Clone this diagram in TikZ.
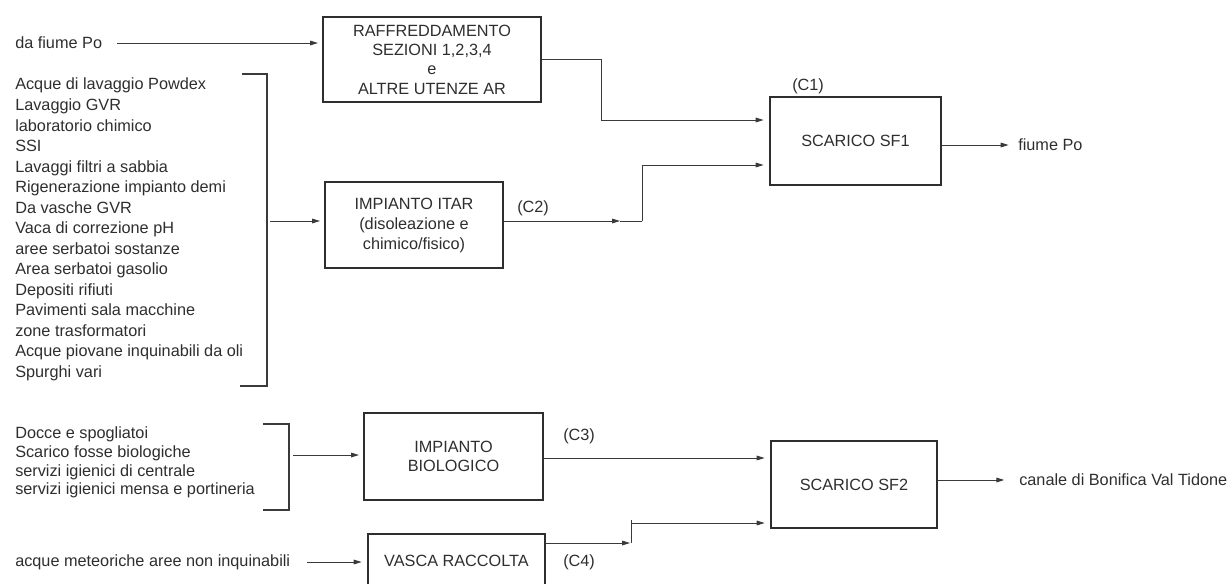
\documentclass[tikz,border=0pt]{standalone}
\usepackage{fontspec}
\setmainfont{Liberation Sans}
\usetikzlibrary{arrows.meta}
\definecolor{ink}{HTML}{2E2E2E}
\definecolor{wire}{HTML}{3A3A3A}
\begin{document}
\begin{tikzpicture}[x=0.75pt,y=-0.75pt,
  every node/.style={text=ink},
  box/.style={draw=ink, line width=1.5pt, align=center, inner sep=0pt,
    font=\fontsize{12.2pt}{14.5pt}\selectfont},
  lbl/.style={inner sep=0pt, font=\fontsize{12.2pt}{14.5pt}\selectfont},
  wirel/.style={draw=wire, line width=0.75pt},
  arr/.style={wirel, -{Triangle[length=6pt,width=3.5pt]}},
  brk/.style={draw=wire, line width=0.9pt}
]
\useasboundingbox (0,0) rectangle (1231,583);
\clip (0,0) rectangle (1231,583);

% boxes
\node[box, minimum width=163.5pt, minimum height=63.75pt] (raff) at (432,59.5)
  {RAFFREDDAMENTO\\SEZIONI 1,2,3,4\\e\\ALTRE UTENZE AR};
\node[box, minimum width=133.5pt, minimum height=64.5pt, font=\fontsize{12.2pt}{15pt}\selectfont] (itar) at (414,225)
  {IMPIANTO ITAR\\(disoleazione e\\chimico/fisico)};
\node[box, minimum width=134.25pt, minimum height=65.25pt] (bio) at (453.5,456.5)
  {IMPIANTO\\BIOLOGICO};
\node[box, minimum width=132.75pt, minimum height=40.5pt] (vasca) at (456.5,561)
  {VASCA RACCOLTA};
\node[box, minimum width=128.25pt, minimum height=66pt] (sf1) at (855.5,141)
  {SCARICO SF1};
\node[box, minimum width=124.5pt, minimum height=65.25pt] (sf2) at (854,484.5)
  {SCARICO SF2};

% texts
\node[lbl, anchor=west] (dafiume) at (15,43) {da fiume Po};
\node[lbl, anchor=west, align=left, font=\fontsize{12.2pt}{15.4pt}\selectfont] (list1) at (15,229.5)
  {Acque di lavaggio Powdex\\Lavaggio GVR\\laboratorio chimico\\SSI\\Lavaggi filtri a sabbia\\Rigenerazione impianto demi\\Da vasche GVR\\Vaca di correzione pH\\aree serbatoi sostanze\\Area serbatoi gasolio\\Depositi rifiuti\\Pavimenti sala macchine\\zone trasformatori\\Acque piovane inquinabili da oli\\Spurghi vari};
\node[lbl, anchor=west, align=left, font=\fontsize{12.2pt}{14pt}\selectfont] (list2) at (15,462.5)
  {Docce e spogliatoi\\Scarico fosse biologiche\\servizi igienici di centrale\\servizi igienici mensa e portineria};
\node[lbl, anchor=west] (meteo) at (15,562) {acque meteoriche aree non inquinabili};
\node[lbl, anchor=west] (fiume) at (1018,145) {fiume Po};
\node[lbl, anchor=west] (canale) at (1019,480) {canale di Bonifica Val Tidone};
\node[lbl, anchor=west] (c1) at (792,86) {(C1)};
\node[lbl, anchor=west] (c2) at (517,208) {(C2)};
\node[lbl, anchor=west] (c3) at (563,436) {(C3)};
\node[lbl, anchor=west] (c4) at (563,562) {(C4)};

% brackets
\coordinate (b1t) at (242,74);
\coordinate (b1c) at (267,74);
\coordinate (b1d) at (267,386);
\coordinate (b1e) at (240,386);
\draw[brk] (b1t) -- (b1c) -- (b1d) -- (b1e);
\coordinate (b1) at (270,221);
\coordinate (b2t) at (263,424);
\coordinate (b2c) at (289,424);
\coordinate (b2d) at (289,510);
\coordinate (b2e) at (263,510);
\draw[brk] (b2t) -- (b2c) -- (b2d) -- (b2e);
\coordinate (b2) at (293,455);

% connectors
\coordinate (s0) at (117,43);
\draw[arr, shorten >=3pt] (s0) -- (s0 -| raff.west);
\coordinate (k1) at (601,120);
\draw[arr, shorten >=4pt] (raff.east) -| (k1) -- (k1 -| sf1.west);
\draw[arr, shorten >=3pt] (b1) -- (b1 -| itar.west);
\coordinate (c2a) at (620,221);
\coordinate (c2b) at (642,221);
\coordinate (c2c) at (642,165);
\draw[arr] (itar.east |- c2a) -- (c2a);
\draw[wirel] (c2a) -- (c2b);
\draw[arr, shorten >=4pt] (c2b) -- (c2c) -- (c2c -| sf1.west);
\draw[arr, shorten >=7pt] (sf1.east |- fiume.west) -- (fiume.west);
\draw[arr, shorten >=3pt] (b2) -- (b2 -| bio.west);
\coordinate (k3) at (543,458);
\draw[arr, shorten >=4pt] (k3) -- (k3 -| sf2.west);
\coordinate (s4) at (307,562);
\draw[arr, shorten >=4pt] (s4) -- (s4 -| vasca.west);
\coordinate (c4a) at (630,543);
\coordinate (c4b) at (631,543);
\coordinate (c4t) at (631,520);
\coordinate (c4c) at (631,523);
\draw[arr] (vasca.east |- c4a) -- (c4a);
\draw[wirel] (c4b) -- (c4t);
\draw[arr, shorten >=4pt] (c4c) -- (c4c -| sf2.west);
\draw[arr, shorten >=11pt] (sf2.east |- canale.west) -- (canale.west);
\end{tikzpicture}
\end{document}
